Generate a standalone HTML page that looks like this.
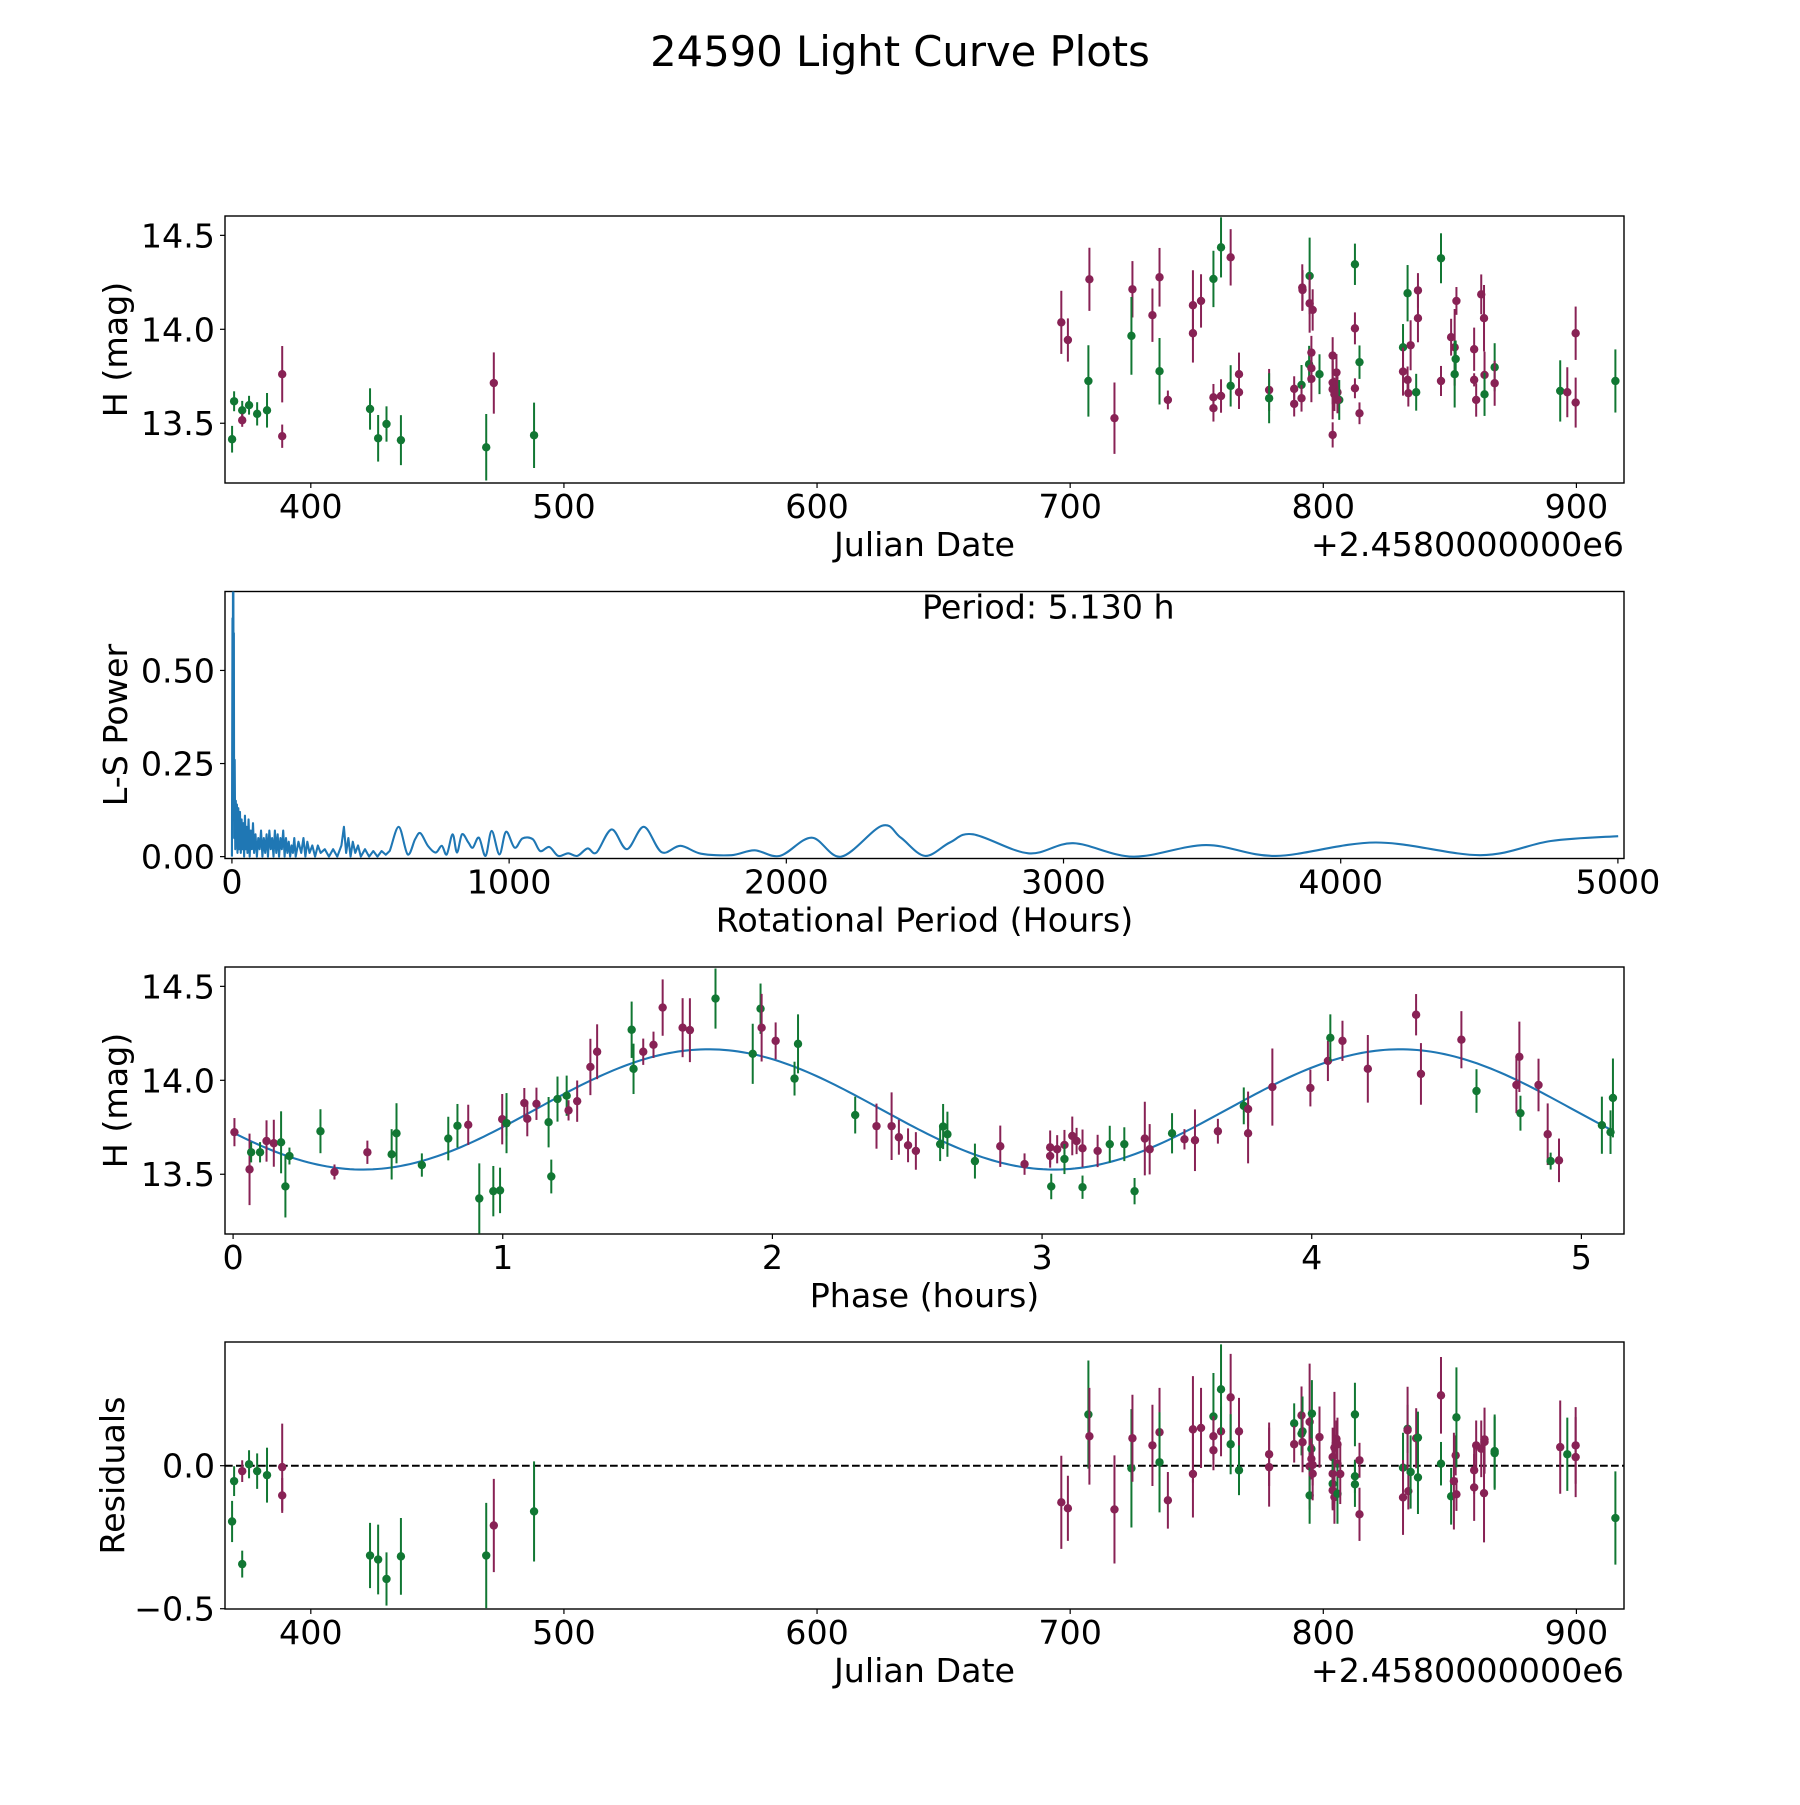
<!DOCTYPE html>
<html><head><meta charset="utf-8"><title>24590 Light Curve Plots</title>
<style>html,body{margin:0;padding:0;background:#fff}svg text{font-family:"DejaVu Sans","Liberation Sans",sans-serif;fill:#000}</style>
</head><body>
<svg id="fig" xmlns="http://www.w3.org/2000/svg" width="1800" height="1800" viewBox="0 0 1800 1800">
<rect width="1800" height="1800" fill="#fff"/>
<text x="900" y="66" font-size="41.7" text-anchor="middle">24590 Light Curve Plots</text>
</svg>
<script>
// ---------- Panel 1: light curve (JD offset from 2458000) ----------
const lcDates=[368.9,369.7,372.9,372.9,375.6,378.8,382.7,388.7,388.7,423.4,426.6,429.9,435.6,469.3,472.3,488.2,
696.5,699.1,707.2,707.6,717.5,724.6,724.2,732.5,735.3,735.3,738.6,748.5,748.5,751.7,756.6,756.6,756.6,759.6,759.6,763.4,763.4,766.7,766.7,778.6,778.6,788.5,788.5,791.4,791.4,791.7,791.8,794.6,794.6,795.8,794.4,795.3,795.3,795.3,798.5,803.7,803.7,803.7,804.4,803.7,805.2,805.6,806.3,805.6,812.5,812.5,812.5,814.3,814.3,831.5,831.5,833.3,833.6,833.3,834.5,836.7,837.4,837.4,846.5,846.5,850.5,851.9,851.9,852.3,852.6,859.6,859.6,860.4,862.4,863.5,863.7,863.7,867.7,867.7,893.6,896.4,899.7,899.7,915.4];
const lcMags=[13.415,13.617,13.569,13.516,13.596,13.55,13.569,13.761,13.431,13.576,13.42,13.496,13.41,13.372,13.714,13.436,
14.037,13.943,13.725,14.266,13.527,14.213,13.965,14.075,14.277,13.777,13.624,14.128,13.979,14.151,14.268,13.638,13.58,13.645,14.436,14.383,13.699,13.761,13.665,13.677,13.633,13.683,13.603,13.704,13.633,14.222,14.209,14.284,14.138,14.103,13.814,13.876,13.793,13.736,13.761,13.86,13.716,13.681,13.654,13.438,13.77,13.665,13.624,13.624,14.346,14.005,13.686,13.825,13.553,13.904,13.775,13.731,13.66,14.192,13.915,13.665,14.059,14.207,14.378,13.725,13.958,13.904,13.761,13.842,14.151,13.894,13.731,13.624,14.186,14.059,13.757,13.654,13.798,13.713,13.672,13.665,13.979,13.61,13.725];
const lcErrs=[.071,.053,.05,.035,.05,.062,.092,.15,.062,.11,.124,.094,.133,.177,.163,.174,
.168,.115,.19,.168,.19,.15,.207,.142,.156,.177,.05,.186,.156,.142,.15,.071,.071,.089,.16,.15,.11,.115,.089,.112,.133,.067,.067,.106,.071,.124,.106,.204,.156,.11,.098,.089,.071,.124,.106,.098,.115,.16,.089,.067,.098,.106,.106,.071,.11,.085,.053,.089,.058,.124,.128,.071,.071,.15,.133,.098,.128,.092,.133,.08,.098,.204,.177,.098,.074,.115,.035,.089,.106,.177,.124,.115,.128,.12,.163,.133,.142,.133,.168];
const lcBands="gggmgggmmgggggmgmmgmmmgmmgmmmmgmmmgmgmmmgmmgmmmgmmgmmmgmmmmmmmgmgmmgmgmmmgmgmmgmmmggmmmmmmmggmgmmmgm".split('');
// ---------- Panel 2: Lomb-Scargle periodogram ----------
const lsPeriods=[0,2,3,4,5,6,7,8,10,12,14,16,18,20,23,26,29,32,35,38,41,44,47,50,53,56,60,64,68,72,76,80,85,90,95,100,105,110,115,120,125,130,135,140,145,150,155,160,165,170,175,180,185,190,195,200,205,210,215,220,225,230,240,250,258,265,272,280,290,300,310,320,335,350,365,380,395,404,412,420,428,436,445,455,465,480,495,510,525,540,555,569,602,634,661,680,707,735,757,775,796,812,830,853,869,891,915,937,965,989,1020,1048,1085,1112,1145,1177,1213,1246,1283,1315,1370,1425,1486,1550,1618,1692,1802,1885,1977,2091,2198,2345,2413,2500,2590,2674,2873,3035,3252,3514,3766,4126,4505,4758,5001];
const lsPowers=[0.0,0.64,0.3,0.9,0.9,0.2,0.6,0.05,0.26,0.02,0.15,0.03,0.14,0.01,0.13,0.02,0.12,0.01,0.1,0.02,0.09,0.0,0.11,0.02,0.08,0.01,0.1,0.0,0.07,0.02,0.09,0.01,0.06,0.0,0.05,0.02,0.07,0.0,0.05,0.01,0.06,0.0,0.07,0.02,0.05,0.0,0.07,0.01,0.06,0.0,0.05,0.02,0.07,0.0,0.05,0.01,0.04,0.0,0.03,0.01,0.05,0.0,0.04,0.01,0.05,0.0,0.04,0.01,0.03,0.0,0.03,0.01,0.02,0.0,0.02,0.0,0.03,0.08,0.01,0.05,0.0,0.04,0.01,0.03,0.0,0.02,0.0,0.015,0.0,0.015,0.005,0.015,0.08,0.006,0.047,0.063,0.029,0.011,0.029,0.006,0.06,0.011,0.06,0.038,0.024,0.051,0.002,0.069,0.006,0.067,0.024,0.049,0.047,0.015,0.026,0.002,0.009,0.002,0.022,0.011,0.073,0.02,0.08,0.012,0.029,0.008,0.004,0.017,0.002,0.051,0.0,0.083,0.051,0.002,0.038,0.06,0.009,0.036,0.0,0.031,0.002,0.038,0.004,0.042,0.055];
const lsTicksX=[0,1000,2000,3000,4000,5000];
const lsTicksY=[0,0.25,0.5];
const bestPeriodLabel="Period: 5.130 h";
// ---------- Panel 3: phased light curve ----------
const phPhases=[.005,.061,.067,.10,.124,.151,.178,.194,.209,.324,.376,.498,.588,.606,.70,.798,.832,.872,.913,.965,.99,.998,1.014,1.014,1.08,1.091,1.125,1.17,1.18,1.203,1.237,1.244,1.276,1.325,1.35,1.478,1.485,1.521,1.559,1.593,1.667,1.694,1.789,1.927,1.956,1.96,2.012,2.082,2.095,2.307,2.386,2.442,2.469,2.503,
2.532,2.622,2.633,2.649,2.751,2.845,2.935,3.03,3.03,3.034,3.056,3.083,3.083,3.112,3.128,3.15,3.15,3.206,3.251,3.305,3.343,3.381,3.399,3.482,3.528,3.567,3.652,3.748,3.764,3.764,3.854,3.995,4.06,4.069,4.114,4.208,4.387,4.405,4.555,4.611,4.759,4.77,4.774,4.841,4.875,4.886,4.917,5.076,5.108,5.117];
const phMags=[13.724,13.526,13.617,13.617,13.677,13.665,13.67,13.435,13.597,13.729,13.512,13.617,13.606,13.718,13.549,13.69,13.758,13.763,13.371,13.41,13.414,13.793,13.772,13.772,13.879,13.795,13.875,13.777,13.488,13.9,13.918,13.84,13.889,14.071,14.152,14.269,14.061,14.152,14.189,14.387,14.28,14.267,14.435,14.141,14.381,14.28,14.21,14.009,14.194,13.815,13.756,13.756,13.697,13.654,
13.624,13.66,13.754,13.713,13.57,13.649,13.554,13.643,13.597,13.435,13.633,13.656,13.581,13.704,13.677,13.638,13.431,13.624,13.66,13.66,13.41,13.69,13.633,13.718,13.686,13.681,13.729,13.864,13.847,13.718,13.964,13.959,14.103,14.226,14.21,14.061,14.349,14.034,14.216,13.943,13.975,14.125,13.825,13.975,13.713,13.57,13.574,13.761,13.724,13.906];
const phErrs=[.075,.19,.054,.054,.11,.125,.165,.165,.045,.117,.04,.062,.134,.16,.062,.116,.116,.107,.187,.134,.121,.134,.07,.16,.08,.093,.086,.134,.09,.12,.107,.054,.11,.15,.146,.15,.134,.07,.07,.15,.157,.17,.16,.16,.134,.18,.098,.09,.157,.098,.12,.18,.093,.09,
.1,.09,.12,.12,.093,.11,.057,.09,.062,.068,.075,.08,.08,.103,.07,.1,.062,.086,.098,.09,.07,.196,.134,.107,.054,.164,.066,.098,.093,.16,.205,.098,.107,.125,.107,.18,.11,.164,.152,.116,.15,.187,.093,.14,.164,.045,.116,.152,.116,.21];
const phBands="mmggmmggggmmgggggmgggmmgmmmggggmmmmggmmmmmgggmmgggmmmmmggggmmmmgmmgmmmgmgggmmgmmmgmmmmmgmmmmmgmmgmmgmg".split('');
// fitted sinusoid parameters (mean mag, amplitude, phase of minimum, harmonic period)
const fitMean=[13.845];
const fitAmp=[0.32];
const fitMinPhase=[0.48];
const fitHarmonic=[2.565];
// ---------- Panel 4: residuals ----------
const resDates=[368.9,369.7,372.9,372.9,375.6,378.8,382.7,388.7,388.7,423.4,426.6,429.9,435.6,469.3,472.3,488.2,
696.5,699.1,707.2,707.6,717.5,724.2,724.6,732.5,735.3,735.3,738.6,748.5,748.5,751.7,756.6,756.6,756.6,759.6,759.6,763.4,763.4,766.7,766.7,778.6,778.6,788.5,788.5,791.4,791.4,791.8,791.8,794.6,794.6,794.6,795.5,795.3,795.3,795.8,795.8,798.5,803.7,803.7,804.4,803.7,803.7,804.4,805.2,805.6,805.6,805.6,806.7,812.5,812.5,812.5,814.3,814.3,831.5,831.5,833.3,833.6,833.3,834.5,836.7,837.4,837.4,846.5,846.5,850.5,851.6,852.3,852.6,852.6,859.6,859.6,860.4,862.4,863.5,863.7,863.7,867.7,867.7,893.6,896.4,899.7,899.7,915.4];
const resVals=[-.195,-.054,-.019,-.344,.005,-.019,-.033,-.005,-.104,-.314,-.328,-.396,-.317,-.314,-.209,-.16,
-.128,-.149,.179,.103,-.153,-.009,.096,.071,.117,.012,-.121,.127,-.029,.132,.172,.103,.054,.12,.267,.239,.075,.12,-.016,.04,-.005,.148,.075,.176,.112,.12,.082,.153,-.002,-.104,.182,.059,.024,.003,-.028,.1,.03,-.028,.063,-.063,-.086,-.11,.094,.075,.007,-.098,-.029,.179,-.037,-.065,.019,-.17,-.007,-.111,.129,-.089,.124,-.022,.096,.098,-.041,.246,.007,-.107,-.054,.036,-.1,.169,-.016,-.076,.071,.059,-.096,.083,.092,.044,.051,.065,.04,.03,.071,-.183];
const resErrs=[.072,.052,.038,.047,.049,.062,.096,.152,.061,.114,.122,.093,.134,.184,.163,.175,
.163,.114,.189,.169,.189,.207,.152,.142,.155,.175,.099,.186,.152,.14,.152,.07,.07,.087,.157,.152,.105,.117,.087,.111,.138,.07,.064,.101,.076,.122,.105,.204,.152,.099,.117,.093,.072,.072,.093,.107,.103,.111,.195,.087,.07,.093,.064,.093,.079,.105,.105,.111,.058,.079,.061,.093,.122,.131,.084,.064,.152,.128,.105,.091,.128,.134,.076,.099,.169,.07,.058,.175,.082,.117,.087,.099,.172,.111,.111,.128,.128,.163,.128,.14,.134,.163];
const resBands="ggmggggmmgggggmgmmgmmgmmmgmmmmgmmmgmgmgmmgmmggmmmgggmmmmmmmgmmmmmgmgggmmgmgmmgmggmggmmmgmmmmmmmggmgmmgmm".split('');
const jdTicks=[400,500,600,700,800,900];
const magTicks=[13.5,14.0,14.5];
const phTicks=[0,1,2,3,4,5];
const resTicks=[-0.5,0.0];

const NS="http://www.w3.org/2000/svg";
const svg=document.getElementById('fig');
const COL={m:'#882255',g:'#117733'};
const L=225,R=1624,H=267;
const tops=[216,591.5,967,1342];
function mk(tag,attrs,parent){const e=document.createElementNS(NS,tag);for(const k in attrs)e.setAttribute(k,attrs[k]);(parent||svg).appendChild(e);return e;}
function lin(d0,d1,r0,r1){return v=>r0+(v-d0)*(r1-r0)/(d1-d0);}

const xJD=lin(366.1,918.8,L,R);
const xP=lin(-25,5022,L,R);
const xPh=lin(-0.03,5.158,L,R);
const yMag=t=>lin(13.182,14.603,t+H,t);
const yLS=lin(-0.005,0.712,tops[1]+H,tops[1]);
const yRes=lin(-0.501,0.4325,tops[3]+H,tops[3]);

function fmt(v,d){let s=v.toFixed(d);return s.replace('-','\u2212');}

function axes(i,name,xs,xticks,xd,ys,yticks,yd,xlabel,ylabel,offset){
  const t=tops[i];
  const g=mk('g',{});
  
  
  const fr=mk('rect',{x:L,y:t,width:R-L,height:H,fill:'none',stroke:'#000','stroke-width':1.4},g);
  
  
  xticks.forEach(v=>{const x=xs(v);
    mk('line',{x1:x,x2:x,y1:t+H,y2:t+H+5,stroke:'#000','stroke-width':1.2},g);
    const tx=mk('text',{x:x,y:t+H+35,'font-size':33.3,'text-anchor':'middle'},g);
    tx.textContent=fmt(v,xd);
    
    });
  yticks.forEach(v=>{const y=ys(v);
    mk('line',{x1:L-5,x2:L,y1:y,y2:y,stroke:'#000','stroke-width':1.2},g);
    const tx=mk('text',{x:L-10,y:y+12,'font-size':33.3,'text-anchor':'end'},g);
    tx.textContent=fmt(v,yd);
    
    });
  const xl=mk('text',{x:(L+R)/2,y:t+H+73,'font-size':33.3,'text-anchor':'middle'},g);
  xl.textContent=xlabel;
  
  
  const cy=t+H/2;
  const yl=mk('text',{x:0,y:0,'font-size':33.3,'text-anchor':'middle',transform:`translate(${i==3?124:127},${cy}) rotate(-90)`},g);
  yl.textContent=ylabel;
  
  
  if(offset){const o=mk('text',{x:R,y:t+H+73,'font-size':33.3,'text-anchor':'end'},g);
    o.textContent=offset;
    
    }
}
function clipFor(i){const id='clip'+i;const d=mk('clipPath',{id:id});mk('rect',{x:L,y:tops[i],width:R-L,height:H},d);return `url(#${id})`;}
function errPoints(i,xs,ys,name,xsArr,vals,errs,bands){
  const g=mk('g',{'clip-path':clipFor(i)});
  
  
  for(let k=0;k<xsArr.length;k++){
    const c=COL[bands[k]]||COL.g;const x=xs(xsArr[k]);
    const ln=mk('line',{x1:x,x2:x,y1:ys(vals[k]-errs[k]),y2:ys(vals[k]+errs[k]),stroke:c,'stroke-width':2},g);
    
    
    const p=mk('circle',{cx:x,cy:ys(vals[k]),r:4.2,fill:c},g);
    
    
  }
}

// Panel 1
axes(0,'light-curve-panel',xJD,jdTicks,0,yMag(tops[0]),magTicks,1,'Julian Date','H (mag)','+2.4580000000e6');
errPoints(0,xJD,yMag(tops[0]),'light-curve-points',lcDates,lcMags,lcErrs,lcBands);

// Panel 2 (smooth Catmull-Rom rendering through data points for the smooth part)
axes(1,'periodogram-panel',xP,lsTicksX,0,yLS,lsTicksY,2,'Rotational Period (Hours)','L-S Power',null);
{const P=lsPeriods.map((p,k)=>[xP(p),yLS(lsPowers[k])]);
 let d='M'+P[0][0].toFixed(2)+','+P[0][1].toFixed(2);
 for(let k=1;k<P.length;k++){
   if(lsPeriods[k]<=569){d+=' L'+P[k][0].toFixed(2)+','+P[k][1].toFixed(2);continue;}
   const p0=P[Math.max(k-2,0)],p1=P[k-1],p2=P[k],p3=P[Math.min(k+1,P.length-1)];
   const c1=[p1[0]+(p2[0]-p0[0])/6,p1[1]+(p2[1]-p0[1])/6];
   const c2=[p2[0]-(p3[0]-p1[0])/6,p2[1]-(p3[1]-p1[1])/6];
   d+=` C${c1[0].toFixed(2)},${c1[1].toFixed(2)} ${c2[0].toFixed(2)},${c2[1].toFixed(2)} ${p2[0].toFixed(2)},${p2[1].toFixed(2)}`;
 }
 const pl=mk('path',{d:d,fill:'none',stroke:'#1f77b4','stroke-width':2.1,'stroke-linejoin':'round','clip-path':clipFor(1)});
 
 
 const pt=mk('text',{x:922,y:tops[1]+27,'font-size':33.3});
 pt.textContent=bestPeriodLabel;
 
 }

// Panel 3
const yM3=yMag(tops[2]);
axes(2,'phased-curve-panel',xPh,phTicks,0,yM3,magTicks,1,'Phase (hours)','H (mag)',null);
{let pts=[];for(let k=0;k<=300;k++){const ph=-0.03+k*(5.14/300);
   const m=fitMean[0]-fitAmp[0]*Math.cos(2*Math.PI*(ph-fitMinPhase[0])/fitHarmonic[0]);
   if(ph>=0&&ph<=5.13)pts.push(xPh(ph).toFixed(2)+','+yM3(m).toFixed(2));}
 const pl=mk('polyline',{points:pts.join(' '),fill:'none',stroke:'#1f77b4','stroke-width':2.1});
 
 }
errPoints(2,xPh,yM3,'phased-points',phPhases,phMags,phErrs,phBands);

// Panel 4
axes(3,'residuals-panel',xJD,jdTicks,0,yRes,resTicks,1,'Julian Date','Residuals','+2.4580000000e6');
{const zl=mk('line',{x1:L,x2:R,y1:yRes(0),y2:yRes(0),stroke:'#000','stroke-width':2,'stroke-dasharray':'7.7,3.3'});
 
 }
errPoints(3,xJD,yRes,'residual-points',resDates,resVals,resErrs,resBands);
</script>
</body></html>
